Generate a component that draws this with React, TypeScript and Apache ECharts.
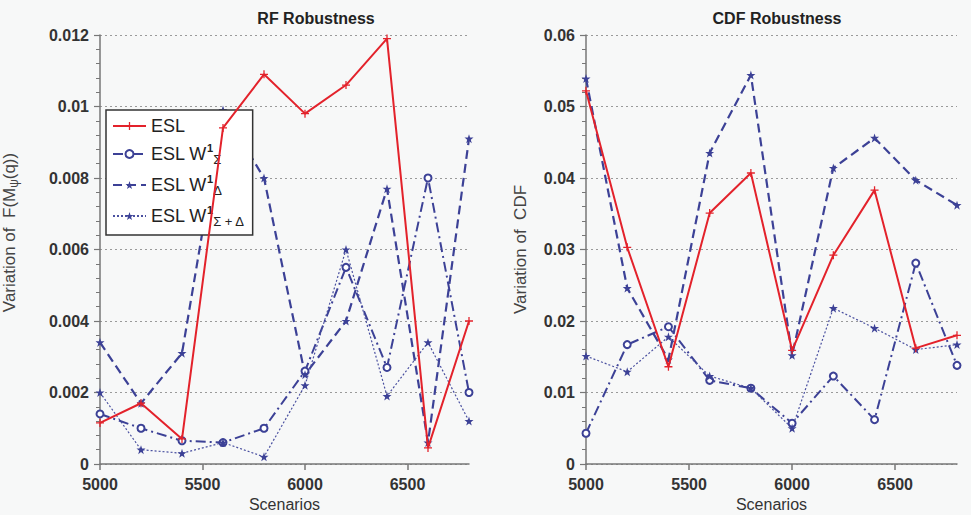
import React, { useEffect, useRef } from "react";
import * as echarts from "echarts";

const SCENARIOS = [5000, 5200, 5400, 5600, 5800, 6000, 6200, 6400, 6600, 6800];
const X_TICKS = [5000, 5500, 6000, 6500];

const RF_ESL = [0.00115, 0.0017, 0.0007, 0.0094, 0.0109, 0.0098, 0.0106, 0.0119, 0.00045, 0.004];
const RF_W1_SIGMA = [0.0014, 0.001, 0.00065, 0.0006, 0.001, 0.0026, 0.0055, 0.0027, 0.008, 0.002];
const RF_W1_DELTA = [0.0034, 0.0017, 0.0031, 0.0099, 0.008, 0.0025, 0.004, 0.0077, 0.0006, 0.0091];
const RF_W1_SIGMA_DELTA = [0.002, 0.0004, 0.0003, 0.0006, 0.0002, 0.0022, 0.006, 0.0019, 0.0034, 0.0012];

const CDF_ESL = [0.0522, 0.0303, 0.0136, 0.0351, 0.0407, 0.0159, 0.0292, 0.0383, 0.0162, 0.018];
const CDF_W1_SIGMA = [0.0043, 0.0167, 0.0192, 0.0117, 0.0106, 0.0057, 0.0123, 0.0062, 0.0281, 0.0138];
const CDF_W1_DELTA = [0.0539, 0.0246, 0.0146, 0.0435, 0.0544, 0.0152, 0.0414, 0.0456, 0.0397, 0.0362];
const CDF_W1_SIGMA_DELTA = [0.0151, 0.0129, 0.0178, 0.0123, 0.0106, 0.005, 0.0218, 0.019, 0.016, 0.0167];

const SERIES_NAMES = ["ESL", "ESL W1Σ", "ESL W1Δ", "ESL W1Σ+Δ"];

const FONT = 'Arial, "Liberation Sans", Helvetica, sans-serif';
const RED = "#e3222b";
const BLUE = "#3c4196";
const PLUS = "path://M4.2,0H5.8V4.2H10V5.8H5.8V10H4.2V5.8H0V4.2H4.2Z";
const STAR = "path://M5,0L6.2,3.6L10,3.6L7,5.9L8.1,9.5L5,7.3L1.9,9.5L3,5.9L0,3.6L3.8,3.6Z";

function pairs(vals: number[]) {
  return SCENARIOS.map((x, i) => [x, vals[i]]);
}

function makeSeries(idx: number, esl: number[], sig: number[], del: number[], sd: number[]) {
  const base = { type: "line", xAxisIndex: idx, yAxisIndex: idx, z: 3 };
  return [
    {
      ...base,
      name: SERIES_NAMES[0],
      data: pairs(esl),
      symbol: PLUS,
      symbolSize: 8,
      itemStyle: { color: RED },
      lineStyle: { color: RED, width: 2, type: "solid" },
      z: 5,
    },
    {
      ...base,
      name: SERIES_NAMES[1],
      data: pairs(sig),
      symbol: "emptyCircle",
      symbolSize: 7,
      itemStyle: { color: BLUE, borderWidth: 1.5 },
      lineStyle: { color: BLUE, width: 2, type: [10, 4, 2, 4] },
    },
    {
      ...base,
      name: SERIES_NAMES[2],
      data: pairs(del),
      symbol: STAR,
      symbolSize: 9,
      itemStyle: { color: BLUE },
      lineStyle: { color: BLUE, width: 2.2, type: [9, 5] },
    },
    {
      ...base,
      name: SERIES_NAMES[3],
      data: pairs(sd),
      symbol: STAR,
      symbolSize: 9,
      itemStyle: { color: BLUE },
      lineStyle: { color: "#4a50a0", width: 1.2, type: [2, 2] },
    },
  ];
}

function xAxis(idx: number) {
  return {
    type: "value",
    gridIndex: idx,
    min: 5000,
    max: 6800,
    interval: 500,
    name: "Scenarios",
    nameLocation: "middle",
    nameGap: 31,
    nameTextStyle: { fontSize: 16, color: "#333", fontFamily: FONT },
    axisLine: { show: true, lineStyle: { color: "#777", width: 1.5 } },
    axisTick: { show: true, length: 6, customValues: X_TICKS, lineStyle: { color: "#777", width: 1.5 } },
    axisLabel: {
      customValues: X_TICKS,
      fontSize: 16,
      fontWeight: "bold",
      color: "#333",
      fontFamily: FONT,
      margin: 12,
      formatter: (v: number) => String(v),
    },
    splitLine: { show: false },
  };
}

function yAxis(idx: number, max: number, interval: number, digits: number, name: any, nameGap: number) {
  return {
    type: "value",
    gridIndex: idx,
    min: 0,
    max,
    interval,
    name,
    nameLocation: "middle",
    nameGap,
    nameRotate: 90,
    axisLine: { show: true, lineStyle: { color: "#777", width: 1.5 } },
    axisTick: { show: true, length: 6, lineStyle: { color: "#777", width: 1.2 } },
    minorTick: { show: true, splitNumber: 5, length: 4, lineStyle: { color: "#777", width: 1 } },
    axisLabel: {
      fontSize: 16,
      fontWeight: "bold",
      color: "#333",
      fontFamily: FONT,
      margin: 11,
      formatter: (v: number) => String(+v.toFixed(digits)),
    },
    splitLine: { show: true, lineStyle: { color: "#9a9a9a", width: 1, type: [2, 3] } },
    nameTextStyle: {
      fontSize: 17,
      color: "#444",
      fontFamily: FONT,
      rich: {
        pad: { width: 34, fontSize: 17, lineHeight: 22 },
        n: { fontSize: 17, color: "#444", fontFamily: FONT, lineHeight: 22 },
        s: { fontSize: 12, color: "#444", fontFamily: FONT, verticalAlign: "bottom", lineHeight: 22 },
      },
    },
  };
}

export default function App() {
  const ref = useRef<HTMLDivElement>(null);
  useEffect(() => {
    document.body.style.margin = "0";
    const chart = echarts.init(ref.current!, null, { renderer: "svg" });
    const legendLabel: Record<string, string> = {
      "ESL": "{m|ESL}",
      "ESL W1Σ": "{m|ESL W}{sup|1}{sub|Σ}",
      "ESL W1Δ": "{m|ESL W}{sup|1}{sub|Δ}",
      "ESL W1Σ+Δ": "{m|ESL W}{sup|1}{sub|Σ + Δ}",
    };
    chart.setOption({
      animation: false,
      backgroundColor: "#f7f8f8",
      textStyle: { fontFamily: FONT },
      title: [
        {
          text: "RF Robustness",
          left: 311,
          top: 5,
          textAlign: "center",
          textStyle: { fontSize: 16, fontWeight: "bold", color: "#222", fontFamily: FONT },
        },
        {
          text: "CDF Robustness",
          left: 772,
          top: 5,
          textAlign: "center",
          textStyle: { fontSize: 16, fontWeight: "bold", color: "#222", fontFamily: FONT },
        },
      ],
      grid: [
        { left: 100, right: 502, top: 35, bottom: 51, outerBoundsMode: "none", containLabel: false },
        { left: 586, right: 14, top: 35, bottom: 51, outerBoundsMode: "none", containLabel: false },
      ],
      legend: {
        data: SERIES_NAMES,
        orient: "vertical",
        left: 106,
        top: 110,
        width: 138,
        padding: [7, 8, 7, 6],
        itemGap: 7,
        itemWidth: 33,
        itemHeight: 10,
        backgroundColor: "#ffffff",
        borderColor: "#333",
        borderWidth: 1.5,
        borderRadius: 0,
        formatter: (n: string) => legendLabel[n] || n,
        textStyle: {
          fontFamily: FONT,
          rich: {
            m: { fontSize: 18, color: "#222", fontFamily: FONT, lineHeight: 24, verticalAlign: "middle" },
            sup: { fontSize: 11, color: "#222", fontWeight: "bold", fontFamily: FONT, verticalAlign: "top", lineHeight: 24 },
            sub: { fontSize: 13, color: "#222", fontFamily: FONT, verticalAlign: "bottom", lineHeight: 24 },
          },
        },
      },
      xAxis: [xAxis(0), xAxis(1)],
      yAxis: [
        yAxis(0, 0.012, 0.002, 3, "{pad| }{n|Variation of  F(M}{s|ψ}{n|(q))}", 80),
        yAxis(1, 0.06, 0.01, 2, "{n|Variation of  CDF}", 55),
      ],
      series: [
        ...makeSeries(0, RF_ESL, RF_W1_SIGMA, RF_W1_DELTA, RF_W1_SIGMA_DELTA),
        ...makeSeries(1, CDF_ESL, CDF_W1_SIGMA, CDF_W1_DELTA, CDF_W1_SIGMA_DELTA),
      ],
    });
    return () => chart.dispose();
  }, []);
  return <div ref={ref} style={{ width: 971, height: 515 }} />;
}
